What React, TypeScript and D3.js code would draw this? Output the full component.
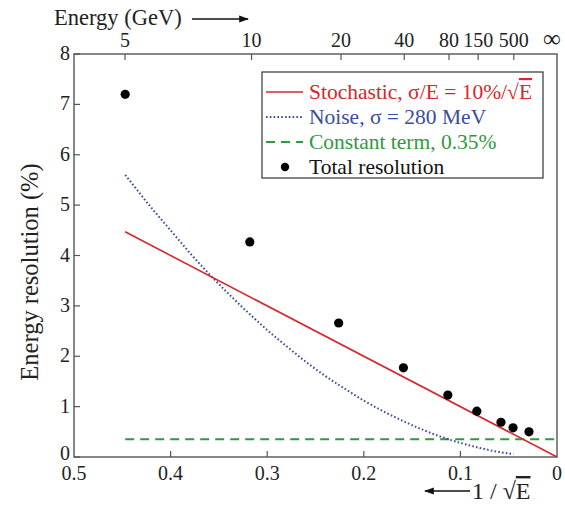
import React from 'react';
import * as d3 from 'd3';

const width = 565;
const height = 507;

const margin = { top: 54, right: 8, bottom: 50, left: 74 };

// tick values
const yTicks = [0, 1, 2, 3, 4, 5, 6, 7, 8];
const xTicks = [0.5, 0.4, 0.3, 0.2, 0.1, 0];
const energyTicks = [5, 10, 20, 40, 80, 150, 500];

// total resolution points (x = 1/sqrt(E), y = %)
const totalX = [0.447, 0.318, 0.226, 0.159, 0.113, 0.083, 0.058, 0.0455, 0.029];
const totalY = [7.2, 4.27, 2.66, 1.77, 1.23, 0.91, 0.69, 0.58, 0.5];

// stochastic term (straight line)
const stochX = [0.447, 0];
const stochY = [4.47, 0];

// noise term
const noiseX = [0.447, 0.42, 0.4, 0.38, 0.36, 0.34, 0.32, 0.3, 0.28, 0.26, 0.24, 0.22, 0.2, 0.18, 0.16, 0.14, 0.12, 0.1, 0.08, 0.06, 0.045];
const noiseY = [5.6, 4.95, 4.5, 4.05, 3.63, 3.24, 2.87, 2.52, 2.2, 1.89, 1.61, 1.36, 1.12, 0.91, 0.72, 0.55, 0.4, 0.28, 0.18, 0.1, 0.06];

// constant term
const constX = [0.447, 0];
const constY = [0.35, 0.35];

const RED = '#d3282c';
const BLUE = '#3a4d9e';
const GREEN = '#2e9a3c';
const AXIS = '#555';
const FONT = '"Liberation Serif"';

const App = () => {
  const xScale = d3.scaleLinear().domain([0.5, 0]).range([margin.left, width - margin.right]);
  const yScale = d3.scaleLinear().domain([0, 8]).range([height - margin.bottom, margin.top]);

  const line = d3.line<[number, number]>()
    .x(d => xScale(d[0]))
    .y(d => yScale(d[1]));
  const curve = d3.line<[number, number]>()
    .x(d => xScale(d[0]))
    .y(d => yScale(d[1]))
    .curve(d3.curveMonotoneX);

  const zip = (xs: number[], ys: number[]) => xs.map((x, i) => [x, ys[i]] as [number, number]);

  const x0 = margin.left;
  const x1 = width - margin.right;
  const y0 = height - margin.bottom;
  const y1 = margin.top;

  const legend = [
    { label: 'stoch', color: RED, dash: null, width: 1.6 },
    { label: 'noise', color: BLUE, dash: '1.6,2.2', width: 2 },
    { label: 'const', color: GREEN, dash: '9,6', width: 2 },
    { label: 'total', color: '#000', dash: null, width: 0 },
  ];
  const rowY = (i: number) => 92 + i * 25;

  const txt = { fontFamily: FONT };

  return (
    <svg width={width} height={height} style={{ position: 'absolute', left: 0, top: 0, background: '#fff' }}>
      <defs>
        <marker id="arr" viewBox="0 0 10 10" refX="9" refY="5" markerWidth="7" markerHeight="7" orient="auto-start-reverse">
          <path d="M0,1.5 L10,5 L0,8.5 z" fill="#111" />
        </marker>
      </defs>

      {/* data */}
      <path d={line(zip(constX, constY)) || ''} fill="none" stroke={GREEN} strokeWidth={2} strokeDasharray="9,6" />
      <path d={curve(zip(noiseX, noiseY)) || ''} fill="none" stroke={BLUE} strokeWidth={2} strokeDasharray="1.6,2.2" />
      <path d={line(zip(stochX, stochY)) || ''} fill="none" stroke={RED} strokeWidth={1.6} />
      {totalX.map((x, i) => (
        <circle key={i} cx={xScale(x)} cy={yScale(totalY[i])} r={4.6} fill="#000" />
      ))}

      {/* frame */}
      <rect x={x0} y={y1} width={x1 - x0} height={y0 - y1} fill="none" stroke={AXIS} strokeWidth={1.4} />

      {/* left ticks */}
      {yTicks.map(t => (
        <g key={'y' + t}>
          <line x1={x0} x2={x0 + 6} y1={yScale(t)} y2={yScale(t)} stroke={AXIS} strokeWidth={1.2} />
          <text style={txt} x={x0 - 4} y={yScale(t) + (t === 0 ? 3 : 6)} textAnchor="end" fontSize={20} fill="#222">{t}</text>
        </g>
      ))}

      {/* bottom ticks */}
      {xTicks.map(t => (
        <g key={'x' + t}>
          {t !== 0.5 && t !== 0 && (
            <line x1={xScale(t)} x2={xScale(t)} y1={y0} y2={y0 - 6} stroke={AXIS} strokeWidth={1.2} />
          )}
          <text style={txt} x={xScale(t)} y={y0 + 23} textAnchor="middle" fontSize={20} fill="#222">{t === 0 ? '0' : String(t)}</text>
        </g>
      ))}

      {/* top energy ticks */}
      {energyTicks.map(e => {
        const px = xScale(1 / Math.sqrt(e));
        return (
          <g key={'e' + e}>
            <line x1={px} x2={px} y1={y1} y2={y1 + 6} stroke={AXIS} strokeWidth={1.2} />
            <text style={txt} x={px} y={y1 - 7} textAnchor="middle" fontSize={20} fill="#222">{e}</text>
          </g>
        );
      })}
      <text style={txt} x={xScale(0) - 5} y={y1 - 7} textAnchor="middle" fontSize={25} fill="#222">∞</text>

      {/* axis titles */}
      <text style={txt} x={54} y={25} fontSize={22.5} fill="#222">Energy (GeV)</text>
      <line x1={192} x2={248} y1={19} y2={19} stroke="#111" strokeWidth={1.4} markerEnd="url(#arr)" />

      <text style={txt} transform={`translate(38, ${272}) rotate(-90)`} textAnchor="middle" fontSize={24.5} fill="#222">Energy resolution (%)</text>

      <line x1={470} x2={425} y1={491} y2={491} stroke="#111" strokeWidth={1.4} markerEnd="url(#arr)" />
      <text style={txt} x={472} y={499} fontSize={24} fill="#222">
        1 / √<tspan style={{ textDecoration: 'overline' }}>E</tspan>
      </text>

      {/* legend */}
      <rect x={262} y={72} width={281} height={106} fill="#fff" stroke="#333" strokeWidth={1.2} />
      {legend.map((l, i) => {
        const ly = rowY(i);
        return (
          <g key={l.label}>
            {l.label === 'total' ? (
              <circle cx={285} cy={ly} r={4.2} fill="#000" />
            ) : (
              <line x1={266} x2={303} y1={ly} y2={ly} stroke={l.color} strokeWidth={l.width} strokeDasharray={l.dash || undefined} />
            )}
          </g>
        );
      })}
      <text style={txt} x={309} y={rowY(0) + 7} fontSize={21.5} fill={RED}>
        Stochastic, σ/E = 10%/√<tspan style={{ textDecoration: 'overline' }}>E</tspan>
      </text>
      <text style={txt} x={309} y={rowY(1) + 7} fontSize={21.5} fill={BLUE}>Noise, σ = 280 MeV</text>
      <text style={txt} x={309} y={rowY(2) + 7} fontSize={21.5} fill={GREEN}>Constant term, 0.35%</text>
      <text style={txt} x={309} y={rowY(3) + 7} fontSize={21.5} fill="#111">Total resolution</text>
    </svg>
  );
};

export default App;
